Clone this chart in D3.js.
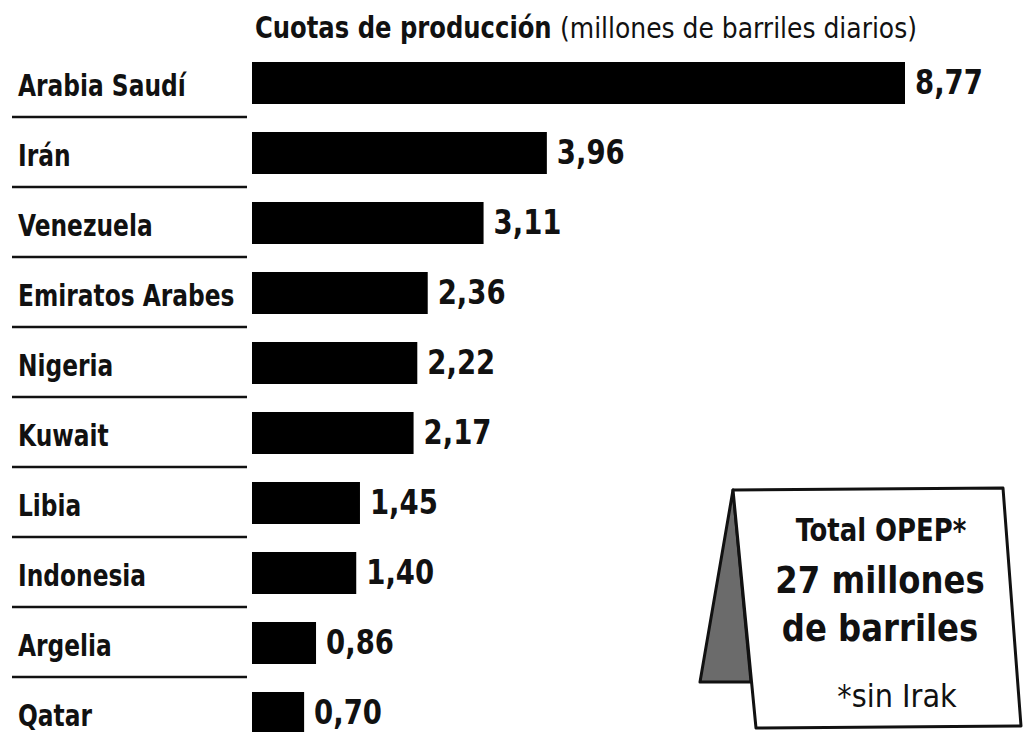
<!DOCTYPE html>
<html>
<head>
<meta charset="utf-8">
<script src="https://cdnjs.cloudflare.com/ajax/libs/d3/7.8.5/d3.min.js"></script>
<style>
  body { margin: 0; background: #fff; }
  svg text { font-family: "Liberation Sans Narrow", "DejaVu Sans Condensed", "Roboto", sans-serif; fill: #111; }
</style>
</head>
<body>
<div id="chart"></div>
<script>
// countries and quotas (millones de barriles diarios)
const countries = ["Arabia Saudí", "Irán", "Venezuela", "Emiratos Arabes", "Nigeria",
                   "Kuwait", "Libia", "Indonesia", "Argelia", "Qatar"];
const quotas = [8.77, 3.96, 3.11, 2.36, 2.22, 2.17, 1.45, 1.40, 0.86, 0.70];
const valueLabels = ["8,77", "3,96", "3,11", "2,36", "2,22", "2,17", "1,45", "1,40", "0,86", "0,70"];

const titleBold = "Cuotas de producción";
const titleRest = "(millones de barriles diarios)";
const boxLines = ["Total OPEP*", "27 millones", "de barriles"];
const boxNote = "*sin Irak";

const width = 1024;
const height = 732;

const data = countries.map((c, i) => ({ country: c, value: quotas[i], label: valueLabels[i] }));

const x = d3.scaleLinear()
    .domain([0, 8.77])
    .range([252, 905]);

const y = d3.scaleBand()
    .domain(countries)
    .range([48, 748])
    .paddingInner(0.4)
    .paddingOuter(0.2);

const svg = d3.select("#chart")
    .append("svg")
    .attr("width", width)
    .attr("height", height);

// condensed look: squeeze text horizontally around its anchor
function squeeze(sel, fx, fy, sx) {
    sel.attr("transform", (d, i) => `translate(${fx(d, i)},${fy(d, i)}) scale(${sx},1)`);
}

// title
svg.append("text")
    .style("font-size", "30px")
    .style("font-weight", "bold")
    .text(titleBold)
    .call(squeeze, () => 255, () => 38, 0.9);

svg.append("text")
    .style("font-size", "29px")
    .style("font-weight", "normal")
    .text(titleRest)
    .call(squeeze, () => 560, () => 38, 0.96);

// separator lines under the country names
svg.selectAll("line.sep")
    .data(countries.slice(1))
    .enter()
    .append("line")
    .attr("class", "sep")
    .attr("x1", 12)
    .attr("x2", 247)
    .attr("y1", d => y(d) - 15)
    .attr("y2", d => y(d) - 15)
    .style("stroke", "#111")
    .style("stroke-width", 2.5);

// country names
svg.selectAll("text.country")
    .data(data)
    .enter()
    .append("text")
    .attr("class", "country")
    .style("font-size", "30px")
    .style("font-weight", "bold")
    .text(d => d.country)
    .call(squeeze, () => 18, d => y(d.country) + 34, 0.865);

// bars
svg.selectAll("rect.bar")
    .data(data)
    .enter()
    .append("rect")
    .attr("class", "bar")
    .attr("x", x(0))
    .attr("y", d => y(d.country))
    .attr("width", d => x(d.value) - x(0))
    .attr("height", y.bandwidth())
    .style("fill", "#000");

// value labels
svg.selectAll("text.value")
    .data(data)
    .enter()
    .append("text")
    .attr("class", "value")
    .style("font-size", "34px")
    .style("font-weight", "bold")
    .text(d => d.label)
    .call(squeeze, d => x(d.value) + 10, d => y(d.country) + 32, 0.9);

// "tent" box with total
const tent = svg.append("g");
tent.append("path")
    .attr("d", "M733,490 L700,682 L751,682 Z")
    .style("fill", "#6b6b6b")
    .style("stroke", "#111")
    .style("stroke-width", 3)
    .style("stroke-linejoin", "round");
tent.append("path")
    .attr("d", "M733,490 L1003,488 L1021,726 L756,728 Z")
    .style("fill", "#fff")
    .style("stroke", "#111")
    .style("stroke-width", 3)
    .style("stroke-linejoin", "round");

tent.append("text")
    .attr("text-anchor", "middle")
    .style("font-size", "32px")
    .style("font-weight", "bold")
    .text(boxLines[0])
    .call(squeeze, () => 881, () => 541, 0.9);

tent.selectAll("text.big")
    .data(boxLines.slice(1))
    .enter()
    .append("text")
    .attr("class", "big")
    .attr("text-anchor", "middle")
    .style("font-size", "38px")
    .style("font-weight", "bold")
    .text(d => d)
    .call(squeeze, () => 880, (d, i) => 593 + i * 48, 0.945);

tent.append("text")
    .attr("text-anchor", "middle")
    .style("font-size", "32px")
    .text(boxNote)
    .call(squeeze, () => 897, () => 707, 1);
</script>
</body>
</html>
